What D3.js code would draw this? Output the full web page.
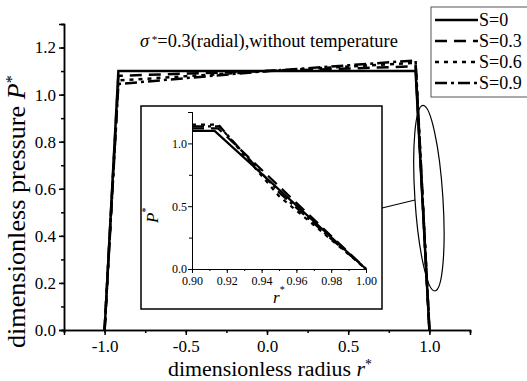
<!DOCTYPE html>
<html lang="en">
<head>
<meta charset="UTF-8">
<title>pressure profile</title>
<script src="https://cdn.jsdelivr.net/npm/d3@7"></script>
<style>
  body { margin: 0; background: #fff; }
  svg text { font-family: "Liberation Serif", "DejaVu Serif", serif; fill: #000; }
</style>
</head>
<body>
<svg id="chart" width="527" height="381"></svg>
<script>
// series labels + dash styles
var seriesNames = ["S=0", "S=0.3", "S=0.6", "S=0.9"];
var dashes = [null, "12,7", "4,5", "12,4,3,4"];

// main curves [r*, P*]
var curveS0  = [[-1.0, 0], [-0.915, 1.10], [0.915, 1.10], [1.0, 0]];
var curveS03 = [[-1.0, 0], [-0.915, 1.08], [0.0, 1.10], [0.915, 1.12], [1.0, 0]];
var curveS06 = [[-1.0, 0], [-0.915, 1.06], [0.0, 1.10], [0.915, 1.135], [1.0, 0]];
var curveS09 = [[-1.0, 0], [-0.915, 1.045], [0.0, 1.10], [0.915, 1.145], [1.0, 0]];

// inset curves (zoom near r*=1)
var insetS0  = [[0.90, 1.10], [0.913, 1.10], [1.0, 0]];
var insetS03 = [[0.90, 1.12], [0.915, 1.12], [1.0, 0]];
var insetS06 = [[0.90, 1.15], [0.915, 1.15], [0.95, 0.58], [0.97, 0.35], [1.0, 0]];
var insetS09 = [[0.90, 1.135], [0.916, 1.135], [0.95, 0.61], [0.98, 0.24], [1.0, 0]];

var xTicks = [-1.0, -0.5, 0.0, 0.5, 1.0];
var yTicks = [0.0, 0.2, 0.4, 0.6, 0.8, 1.0, 1.2];
var insetXTicks = [0.90, 0.92, 0.94, 0.96, 0.98, 1.00];
var insetYTicks = [0.0, 0.5, 1.0];

var mainCurves = [curveS0, curveS03, curveS06, curveS09];
var insetCurves = [insetS0, insetS03, insetS06, insetS09];

var svg = d3.select("#chart");
var serif = '"Liberation Serif", "DejaVu Serif", serif';

// hyphen instead of unicode minus, like the original
function fmt(p) {
    var f = d3.format("." + p + "f");
    return function(d){ return f(d).replace("\u2212", "-"); };
}

// scale font-size so the text covers the width it has in the original
function fitText(t, target) {
    var fs = +t.attr("font-size");
    var len = t.node().getComputedTextLength();
    if (len > 0) t.attr("font-size", fs * target / len);
}

//scales of main plot
var x = d3.scaleLinear().domain([-1.25, 1.25]).range([64, 470]);
var y = d3.scaleLinear().domain([0, 1.3]).range([330, 24]);

function styleAxis(g, w) {
    g.attr("font-family", null);
    g.select(".domain").attr("stroke", "#000").attr("stroke-width", w);
    g.selectAll(".tick line").attr("stroke", "#000").attr("stroke-width", w);
    g.selectAll("text").style("font-family", serif);
}

// minor ticks first
svg.append("g").attr("transform", "translate(0,330)")
    .call(d3.axisBottom(x).tickValues(d3.range(-1.25, 1.26, 0.25)).tickSize(3).tickFormat(""))
    .call(styleAxis, 1.5);
svg.append("g").attr("transform", "translate(64,0)")
    .call(d3.axisLeft(y).tickValues(d3.range(0, 1.31, 0.1)).tickSize(3).tickFormat(""))
    .call(styleAxis, 1.5);
// major ticks
var xa = svg.append("g").attr("transform", "translate(0,330)")
    .call(d3.axisBottom(x).tickValues(xTicks).tickSize(5).tickPadding(5).tickFormat(fmt(1)))
    .call(styleAxis, 1.5);
xa.selectAll("text").attr("font-size", 17);
var ya = svg.append("g").attr("transform", "translate(64,0)")
    .call(d3.axisLeft(y).tickValues(yTicks).tickSize(5).tickPadding(3).tickFormat(fmt(1)))
    .call(styleAxis, 1.5);
ya.selectAll("text").attr("font-size", 17);

var line = d3.line().x(function(d){ return x(d[0]); }).y(function(d){ return y(d[1]); });

svg.append("g").selectAll("path")
    .data(mainCurves)
    .enter().append("path")
    .attr("d", line)
    .attr("fill", "none")
    .attr("stroke", "#000")
    .attr("stroke-width", 2.5)
    .attr("stroke-dasharray", function(d, i){ return dashes[i]; });

// ellipse marking the zoomed region
var ex = x(1.0), ey = y(0.56);
svg.append("ellipse")
    .attr("cx", ex - 0.5).attr("cy", ey)
    .attr("rx", 14).attr("ry", 93)
    .attr("transform", "rotate(-3.7," + (ex - 0.5) + "," + ey + ")")
    .attr("fill", "none").attr("stroke", "#000").attr("stroke-width", 1.2);

// inset box
var inset = {x0: 141, y0: 106, x1: 382, y1: 309};
svg.append("rect")
    .attr("x", inset.x0).attr("y", inset.y0)
    .attr("width", inset.x1 - inset.x0).attr("height", inset.y1 - inset.y0)
    .attr("fill", "#fff").attr("stroke", "#000").attr("stroke-width", 1.5);

// connector line
svg.append("line")
    .attr("x1", inset.x1).attr("y1", 208)
    .attr("x2", 415).attr("y2", 200)
    .attr("stroke", "#000").attr("stroke-width", 1.2);

var ix = d3.scaleLinear().domain([0.90, 1.00]).range([192, 366]);
var iy = d3.scaleLinear().domain([0, 1.25]).range([269, 112]);

svg.append("g").attr("transform", "translate(0,269)")
    .call(d3.axisBottom(ix).tickValues(d3.range(0.90, 1.001, 0.01)).tickSize(2).tickFormat(""))
    .call(styleAxis, 1);
svg.append("g").attr("transform", "translate(192,0)")
    .call(d3.axisLeft(iy).tickValues([0.25, 0.75]).tickSize(3).tickFormat(""))
    .call(styleAxis, 1);
var ixa = svg.append("g").attr("transform", "translate(0,269)")
    .call(d3.axisBottom(ix).tickValues(insetXTicks).tickSize(4).tickPadding(3).tickFormat(fmt(2)))
    .call(styleAxis, 1);
ixa.selectAll("text").attr("font-size", 12);
var iya = svg.append("g").attr("transform", "translate(192,0)")
    .call(d3.axisLeft(iy).tickValues(insetYTicks).tickSize(4).tickPadding(1).tickFormat(fmt(1)))
    .call(styleAxis, 1);
iya.selectAll("text").attr("font-size", 12);

var iline = d3.line().x(function(d){ return ix(d[0]); }).y(function(d){ return iy(d[1]); });
svg.append("g").selectAll("path")
    .data(insetCurves)
    .enter().append("path")
    .attr("d", iline)
    .attr("fill", "none")
    .attr("stroke", "#000")
    .attr("stroke-width", 2.2)
    .attr("stroke-dasharray", function(d, i){ return dashes[i]; });

// inset axis labels
var irl = svg.append("text").attr("x", 273).attr("y", 303)
    .attr("font-size", 17).attr("font-style", "italic");
irl.append("tspan").text("r");
irl.append("tspan").attr("dy", -10).attr("font-size", 10).attr("font-style", "normal").text("*");
var ipl = svg.append("text")
    .attr("transform", "translate(158,223) rotate(-90)")
    .attr("font-size", 17).attr("font-style", "italic");
ipl.append("tspan").text("P");
ipl.append("tspan").attr("dy", -9).attr("font-size", 10).attr("font-style", "normal").text("*");

// title
var title = svg.append("text").attr("x", 140).attr("y", 47).attr("font-size", 16);
title.append("tspan").attr("font-style", "italic").text("σ");
title.append("tspan").attr("dy", "-0.38em").attr("font-size", "0.6em").text(" *");
title.append("tspan").attr("dy", "0.23em").text("=0.3(radial),without temperature");
fitText(title, 258);

// axis labels
var xl = svg.append("text").attr("x", 168).attr("y", 376).attr("font-size", 20);
xl.append("tspan").text("dimensionless radius ");
xl.append("tspan").attr("font-style", "italic").text("r");
xl.append("tspan").attr("dy", "-0.5em").attr("font-size", "0.62em").text("*");
fitText(xl, 204);

var yl = svg.append("text")
    .attr("transform", "translate(25,348) rotate(-90)")
    .attr("font-size", 20);
yl.append("tspan").text("dimensionless pressure ");
yl.append("tspan").attr("font-style", "italic").text("P");
yl.append("tspan").attr("dy", "-0.5em").attr("font-size", "0.62em").text("*");
fitText(yl, 273);

// legend
var legend = svg.append("g");
legend.append("rect")
    .attr("x", 431).attr("y", 7).attr("width", 110).attr("height", 90)
    .attr("fill", "#fff").attr("stroke", "#555").attr("stroke-width", 1);
var items = legend.selectAll("g.item").data(seriesNames).enter()
    .append("g").attr("class", "item")
    .attr("transform", function(d, i){ return "translate(0," + (20 + i * 21) + ")"; });
items.append("line")
    .attr("x1", 435).attr("x2", 478).attr("y1", 0).attr("y2", 0)
    .attr("stroke", "#000").attr("stroke-width", 2.5)
    .attr("stroke-dasharray", function(d, i){ return dashes[i]; });
items.append("text").attr("x", 479).attr("y", 6).attr("font-size", 18).text(function(d){ return d; });
</script>
</body>
</html>
